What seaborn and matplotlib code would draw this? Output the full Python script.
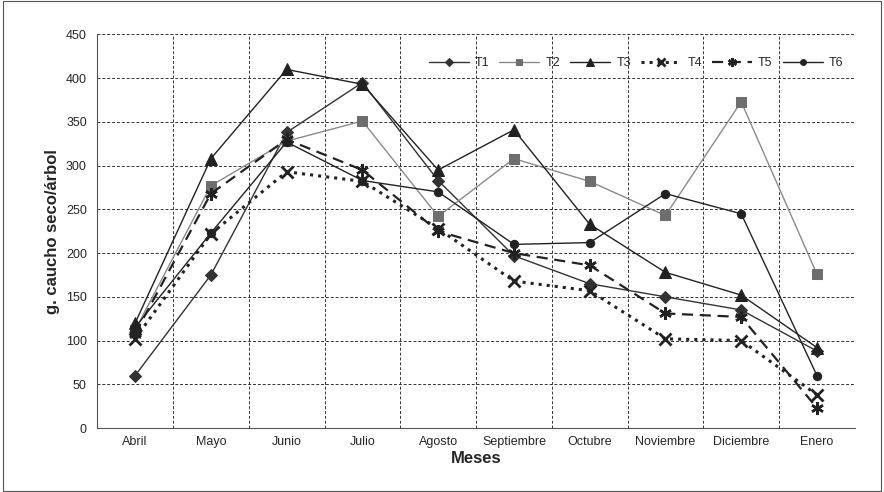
import matplotlib
matplotlib.use("Agg")
import matplotlib.pyplot as plt
import seaborn as sns
import pandas as pd

meses = ["Abril", "Mayo", "Junio", "Julio", "Agosto", "Septiembre", "Octubre",
         "Noviembre", "Diciembre", "Enero"]
t1 = [60, 175, 338, 395, 283, 197, 165, 150, 135, 88]
t2 = [112, 277, 328, 351, 242, 308, 282, 243, 373, 176]
t3 = [120, 308, 410, 393, 295, 341, 233, 178, 152, 92]
t4 = [102, 222, 293, 282, 228, 168, 157, 102, 100, 38]
t5 = [108, 268, 330, 295, 225, 200, 186, 131, 127, 23]
t6 = [115, 223, 327, 283, 270, 210, 212, 268, 245, 60]

series = {"T1": t1, "T2": t2, "T3": t3, "T4": t4, "T5": t5, "T6": t6}
df = pd.DataFrame([(m, k, v) for k, vals in series.items() for m, v in zip(meses, vals)],
                  columns=["mes", "trat", "valor"])
df["x"] = df["mes"].map({m: i for i, m in enumerate(meses)})

sns.set_style("white")
plt.rcParams["font.family"] = ["Liberation Sans", "DejaVu Sans"]

styles = {
    "T1": dict(color="#333333", marker="D", ls="-", lw=1.0, ms=6),
    "T2": dict(color="#8a8a8a", marker="s", ls="-", lw=1.0, ms=7, mfc="#6e6e6e", mec="#6e6e6e"),
    "T3": dict(color="#222222", marker="^", ls="-", lw=1.0, ms=8),
    "T4": dict(color="#222222", marker="x", ls=":", lw=2.2, ms=8, mew=2, mec="#222222"),
    "T5": dict(color="#222222", marker=(6, 2, 0), ls=(0, (5, 3)), lw=1.6, ms=9, mew=1.8, mec="#222222"),
    "T6": dict(color="#222222", marker="o", ls="-", lw=1.0, ms=6),
}

fig = plt.figure(figsize=(8.84, 4.92), dpi=100)
ax = fig.add_axes([0.11, 0.13, 0.857, 0.80])
for k in series:
    st = dict(styles[k])
    st.setdefault("mec", st["color"])
    sub = df[df["trat"] == k]
    sns.lineplot(data=sub, x="x", y="valor", ax=ax, label=k, color=st.pop("color"),
                 marker=st.pop("marker"), linestyle=st.pop("ls"), linewidth=st.pop("lw"),
                 markersize=st.pop("ms"), **st)

ax.set_xlim(-0.5, 9.5)
ax.set_ylim(0, 450)
ax.set_yticks(range(0, 451, 50))
ax.set_xticks([i + 0.5 for i in range(-1, 10)], minor=False)
ax.set_xticklabels([])
ax.set_xticks(range(10), minor=True)
ax.set_xticklabels(meses, minor=True, fontsize=9)
ax.tick_params(axis="x", which="minor", length=0, pad=6)
ax.tick_params(axis="x", which="major", length=4)
ax.tick_params(axis="y", labelsize=9, length=4)
ax.grid(True, which="major", color="#333333", ls=(0, (3, 2)), lw=0.7)
for s in ["top", "right"]:
    ax.spines[s].set_visible(False)
ax.spines["left"].set_color("#555555")
ax.spines["bottom"].set_color("#555555")
ax.set_xlabel("Meses", fontsize=12, fontweight="bold", labelpad=2)
ax.set_ylabel("g. caucho seco/árbol", fontsize=12, fontweight="bold")
leg = ax.legend(ncol=6, loc="upper right", bbox_to_anchor=(1.0, 0.97), frameon=False,
                fontsize=9, handlelength=3.2, columnspacing=0.8, handletextpad=0.5,
                markerscale=0.7)
fig.patches.append(plt.Rectangle((0.003, 0.003), 0.994, 0.994, transform=fig.transFigure,
                                 fill=False, edgecolor="#555555", lw=0.8))
fig.savefig("out.png", dpi=100)
